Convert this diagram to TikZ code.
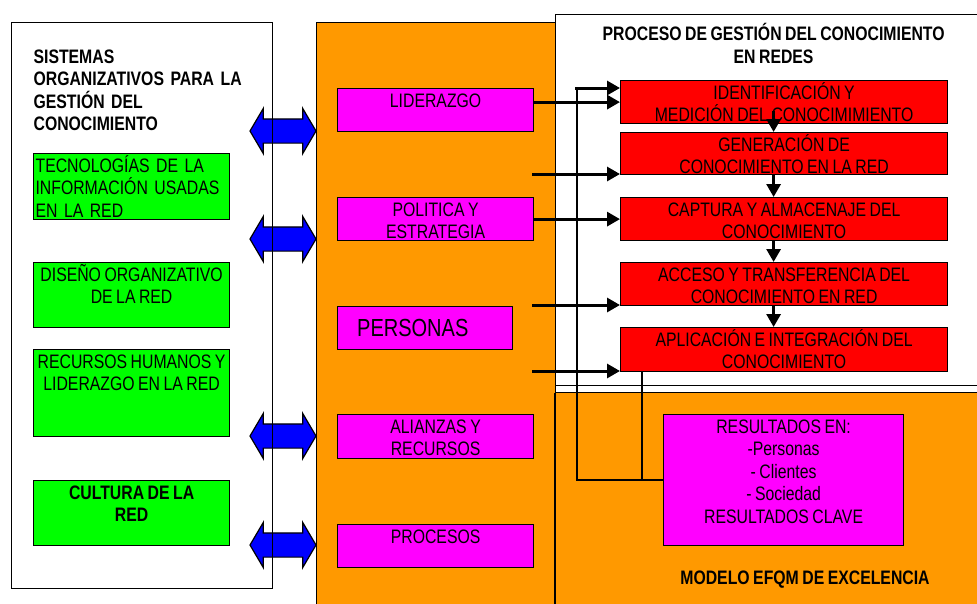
\documentclass[tikz,border=0pt]{standalone}
\usepackage{fontspec}
\setmainfont{Liberation Sans}[FakeStretch=0.81,WordSpace=0.8]
\usetikzlibrary{arrows.meta,shapes.arrows}

\definecolor{efqmorange}{RGB}{255,153,0}
\definecolor{sysgreen}{RGB}{0,255,0}
\definecolor{agentpink}{RGB}{255,0,255}
\definecolor{processred}{RGB}{255,0,0}
\definecolor{linkblue}{RGB}{0,0,255}
\newcommand\tstrut{\rule{0pt}{19pt}}

\begin{document}
\begin{tikzpicture}[
  x=1pt,y=-1pt,
  txt/.style={font=\fontsize{19.5}{22.5}\selectfont,inner sep=0pt,align=center},
  titletxt/.style={txt,font=\fontsize{19.5}{22.5}\selectfont\bfseries},
  panel/.style={draw,line width=1.2pt,inner sep=0pt,anchor=north west},
  box/.style={panel,minimum width=196pt,minimum height=43pt},
  greenbox/.style={box,fill=sysgreen},
  pinkbox/.style={box,fill=agentpink},
  redbox/.style={box,fill=processred,minimum width=327pt},
  dblarrow/.style={double arrow,draw,line width=1.2pt,fill=linkblue,minimum height=66pt,
    inner xsep=0pt,inner ysep=11.5pt,double arrow head extend=10.5pt,double arrow tip angle=119},
  arr/.style={-{Triangle[length=13pt,width=14pt]},line width=3pt},
  link/.style={line width=1.6pt}
]
  \useasboundingbox (0,0) rectangle (977,603);
  \clip (0,0) rectangle (977,603);

  \node[panel,fill=efqmorange,minimum width=670pt,minimum height=590pt] (efqm) at (316,22) {};
  \node[panel,fill=white,minimum width=430pt,minimum height=378pt,
    label={[titletxt,anchor=north,xshift=3pt,yshift=-7.7pt]north:{\tstrut PROCESO DE GESTIÓN DEL CONOCIMIENTO\\EN REDES}}] (proceso) at (555,14) {};
  \draw[line width=1pt] ([yshift=8pt]proceso.south west) -- ([yshift=8pt]proceso.south east);
  \draw[line width=1.2pt] (proceso.south west) -- (proceso.south west |- efqm.south);
  \node[titletxt,anchor=base] (efqm-title) at (805,584) {MODELO EFQM DE EXCELENCIA};

  \foreach \y [count=\i] in {131,239,436,545}
    \node[dblarrow] (enlace-\i) at (283,\y) {};

  \node[panel,minimum width=261pt,minimum height=566pt,
    label={[titletxt,align=left,text width=230pt,anchor=north,xshift=6.5pt,yshift=-22pt]north:{\tstrut SISTEMAS\\ORGANIZATIVOS PARA LA\\GESTIÓN DEL\\CONOCIMIENTO}}] (sistemas) at (11,22) {};

  \node[greenbox,minimum height=66pt,
    label={[txt,align=left,text width=192pt,anchor=north]north:{\tstrut TECNOLOGÍAS DE LA\\INFORMACIÓN USADAS\\EN LA RED}}] (tecnologias) at (33,153) {};
  \node[greenbox,minimum height=65pt,
    label={[txt,anchor=north]north:{\tstrut DISEÑO ORGANIZATIVO\\DE LA RED}}] (diseno) at (33,262) {};
  \node[greenbox,minimum height=87pt,
    label={[txt,anchor=north]north:{\tstrut RECURSOS HUMANOS Y\\LIDERAZGO EN LA RED}}] (rrhh) at (33,349) {};
  \node[greenbox,minimum height=65pt,
    label={[titletxt,anchor=north]north:{\tstrut CULTURA DE LA\\RED}}] (cultura) at (33,480) {};

  \node[pinkbox,label={[txt,anchor=north]north:{\tstrut LIDERAZGO}}] (liderazgo) at (337,88) {};
  \node[pinkbox,label={[txt,anchor=north]north:{\tstrut POLITICA Y\\ESTRATEGIA}}] (politica) at (337,197) {};
  \node[pinkbox,minimum width=175pt,
    label={[txt,font=\fontsize{24.7}{28}\selectfont,anchor=west,xshift=20pt]west:{PERSONAS}}] (personas) at (337,306) {};
  \node[pinkbox,minimum height=44pt,label={[txt,anchor=north]north:{\tstrut ALIANZAS Y\\RECURSOS}}] (alianzas) at (337,414) {};
  \node[pinkbox,label={[txt,anchor=north]north:{\tstrut PROCESOS}}] (procesos) at (337,524) {};

  \node[redbox,label={[txt,anchor=north]north:{\tstrut IDENTIFICACIÓN Y\\MEDICIÓN DEL CONOCIMIMIENTO}}] (identificacion) at (620,80) {};
  \node[redbox,minimum height=42pt,label={[txt,anchor=north]north:{\tstrut GENERACIÓN DE\\CONOCIMIENTO EN LA RED}}] (generacion) at (620,132) {};
  \node[redbox,label={[txt,anchor=north]north:{\tstrut CAPTURA Y ALMACENAJE DEL\\CONOCIMIENTO}}] (captura) at (620,197) {};
  \node[redbox,label={[txt,anchor=north]north:{\tstrut ACCESO Y TRANSFERENCIA DEL\\CONOCIMIENTO EN RED}}] (acceso) at (620,262) {};
  \node[redbox,minimum height=44pt,label={[txt,anchor=north]north:{\tstrut APLICACIÓN E INTEGRACIÓN DEL\\CONOCIMIENTO}}] (aplicacion) at (620,327) {};

  \node[pinkbox,minimum width=240pt,minimum height=131pt,
    label={[txt,anchor=north]north:{\tstrut RESULTADOS EN:\\-Personas\\- Clientes\\- Sociedad\\RESULTADOS CLAVE}}] (resultados) at (663,414) {};

  \coordinate (gen-in) at (532,174);
  \coordinate (acc-in) at (532,305);
  \coordinate (apl-in) at (532,371);
  \coordinate (fb-top) at (577,88);
  \coordinate (apl-out) at (642,371);

  \draw[link] (resultados.west) -| (fb-top);
  \draw[link] (apl-out) -- (apl-out |- resultados.west);
  \draw[arr] ([xshift=-2pt]fb-top) -- (fb-top -| identificacion.west);
  \draw[arr] (liderazgo.east |- identificacion.west) -- (identificacion.west);
  \draw[arr] (gen-in) -- (gen-in -| generacion.west);
  \draw[arr] (politica) -- (captura);
  \draw[arr] (acc-in) -- (acc-in -| acceso.west);
  \draw[arr] (apl-in) -- (apl-in -| aplicacion.west);

  \draw[arr] ([xshift=-10.5pt,yshift=13pt]identificacion.south) -- ([xshift=-10.5pt]generacion.north);
  \foreach \a/\b in {generacion/captura,captura/acceso,acceso/aplicacion}
    \draw[arr] ([xshift=-10.5pt]\a.south) -- ([xshift=-10.5pt]\b.north);
\end{tikzpicture}
\end{document}
